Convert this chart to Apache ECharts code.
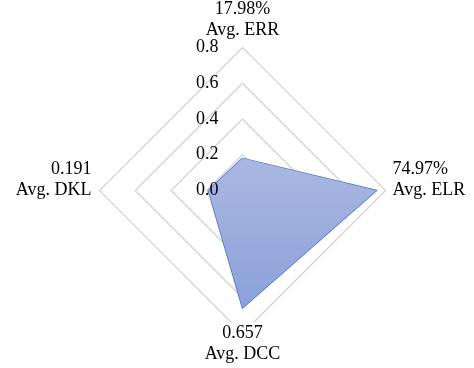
<!DOCTYPE html>
<html><head><meta charset="utf-8">
<script src="https://cdn.jsdelivr.net/npm/echarts@6/dist/echarts.min.js"></script>
<style>html,body{margin:0;padding:0;background:#fff}#chart{width:474px;height:368px}</style>
</head><body><div id="chart"></div>
<script>
// Indicators, listed counter-clockwise starting from the top axis
const metrics = ['Avg. ERR', 'Avg. DKL', 'Avg. DCC', 'Avg. ELR'];
const values = [0.1798, 0.191, 0.657, 0.7497];
const valueLabels = ['17.98%', '0.191', '0.657', '74.97%'];
const tickLabels = ['0.0', '0.2', '0.4', '0.6', '0.8'];
const axisMax = 0.8;

const FONT = '"Liberation Serif", "Times New Roman", serif';
const CENTER = [242.5, 190.5];
const RADIUS = 143;

// per-indicator placement of the two-line name blocks
const nameGaps = [7, 8, -11, 7];

const mainIndicators = metrics.map((m, i) => {
  const ind = { name: m, min: 0, max: axisMax, nameGap: nameGaps[i] };
  if (i === 2) ind.nameTextStyle = { backgroundColor: '#fff' };
  return ind;
});

// side names get a trailing blank line so the two text lines sit above the axis
const nameText = (name) => {
  const i = metrics.indexOf(name);
  const txt = valueLabels[i] + '\n' + name;
  return (i === 1 || i === 3) ? txt + '\n ' : txt;
};

const chart = echarts.init(document.getElementById('chart'));
chart.setOption({
  animation: false,
  backgroundColor: '#fff',
  radar: [{
    center: CENTER,
    radius: RADIUS,
    startAngle: 90,
    splitNumber: 4,
    shape: 'polygon',
    indicator: mainIndicators,
    axisName: {
      color: '#000',
      fontFamily: FONT,
      fontSize: 18,
      lineHeight: 21,
      formatter: nameText
    },
    axisLine: { show: false },
    axisTick: { show: false },
    axisLabel: { show: false },
    splitLine: { lineStyle: { color: '#d4d4d4', width: 1.3 } },
    splitArea: { show: false }
  }, {
    // value scale printed along the top axis, above the filled area
    z: 5,
    center: CENTER,
    radius: RADIUS,
    startAngle: 90,
    splitNumber: 4,
    shape: 'polygon',
    indicator: metrics.map((m, i) => ({
      name: m, min: 0, max: axisMax, axisLabel: { show: i === 0 }
    })),
    axisName: { show: false },
    axisLine: { show: false },
    axisTick: { show: false },
    axisLabel: {
      show: true,
      color: '#000',
      fontFamily: FONT,
      fontSize: 18,
      margin: 24,
      showMinLabel: true,
      showMaxLabel: true,
      formatter: (v) => tickLabels[Math.round(v / (axisMax / 4))]
    },
    splitLine: { show: false },
    splitArea: { show: false }
  }],
  series: [{
    type: 'radar',
    radarIndex: 0,
    symbol: 'none',
    lineStyle: { color: '#4472c4', width: 1.5 },
    areaStyle: {
      opacity: 1,
      color: new echarts.graphic.LinearGradient(0, 0, 0, 1, [
        { offset: 0, color: '#aab7e0' },
        { offset: 1, color: '#8ca1db' }
      ])
    },
    data: [{ value: values }]
  }]
});
</script>
</body></html>
